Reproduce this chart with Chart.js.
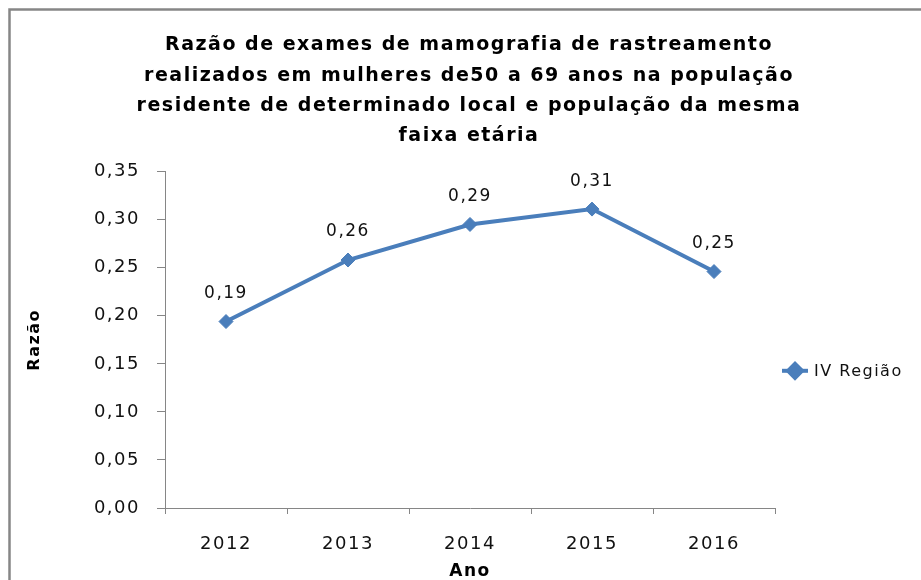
<!DOCTYPE html>
<html>
<head>
<meta charset="utf-8">
<script src="https://cdn.jsdelivr.net/npm/chart.js@4/dist/chart.umd.min.js"></script>
<style>
  html, body { margin: 0; padding: 0; background: #fff; }
  #wrap { width: 921px; height: 580px; }
</style>
</head>
<body>
<div id="wrap"><canvas id="c" width="921" height="580"></canvas></div>
<script>
const titleLines = [
  'Razão de exames de mamografia de rastreamento',
  'realizados em mulheres de50 a 69 anos na população',
  'residente de determinado local e população da mesma',
  'faixa etária'
];
const categories = ['2012', '2013', '2014', '2015', '2016'];
const seriesName = 'IV Região';
const seriesValues = [0.194, 0.258, 0.295, 0.311, 0.246];
const yMin = 0;
const yMax = 0.35;
const yStep = 0.05;
const xTitle = 'Ano';
const yTitle = 'Razão';

const LINE = '#4A7EBB';
const AXIS = '#868686';
const FONT = "'DejaVu Sans', sans-serif";
const fmt = v => v.toFixed(2).replace('.', ',');

const spacingPlugin = {
  id: 'spacing',
  beforeUpdate(chart) { chart.ctx.letterSpacing = '1.5px'; },
  beforeDraw(chart) {
    const ctx = chart.ctx;
    ctx.letterSpacing = '1.5px';
    ctx.save();
    ctx.fillStyle = '#fff';
    ctx.fillRect(0, 0, chart.width, chart.height);
    ctx.strokeStyle = AXIS;
    ctx.lineWidth = 2.5;
    ctx.strokeRect(9.5, 9.5, chart.width + 20, chart.height + 20);
    ctx.restore();
  }
};

const labelPlugin = {
  id: 'valueLabels',
  afterDatasetsDraw(chart) {
    const ctx = chart.ctx;
    const meta = chart.getDatasetMeta(0);
    ctx.save();
    ctx.font = '17px ' + FONT;
    ctx.fillStyle = '#111';
    ctx.textAlign = 'center';
    ctx.textBaseline = 'middle';
    meta.data.forEach((pt, i) => {
      ctx.fillText(fmt(seriesValues[i]), pt.x, pt.y - 28);
    });
    ctx.restore();
  },
  afterDraw(chart) {
    // legend: line with diamond marker, to the right of the plot area
    const ctx = chart.ctx;
    const ds = chart.data.datasets[0];
    const ca = chart.chartArea;
    const x0 = ca.right + 7;
    const w = 26;
    const y = (ca.top + ca.bottom) / 2 + 31;
    ctx.save();
    ctx.strokeStyle = ds.borderColor;
    ctx.lineWidth = ds.borderWidth;
    ctx.beginPath();
    ctx.moveTo(x0, y);
    ctx.lineTo(x0 + w, y);
    ctx.stroke();
    ctx.fillStyle = ds.pointBackgroundColor;
    ctx.strokeStyle = ds.pointBorderColor;
    Chart.helpers.drawPoint(ctx, {
      pointStyle: ds.pointStyle, radius: ds.pointRadius, borderWidth: ds.pointBorderWidth, rotation: 0
    }, x0 + w / 2, y);
    ctx.font = '16px ' + FONT;
    ctx.fillStyle = '#111';
    ctx.textAlign = 'left';
    ctx.textBaseline = 'middle';
    ctx.fillText(ds.label, x0 + w + 6, y + 1);
    ctx.restore();
  }
};

Chart.defaults.font.family = FONT;
Chart.defaults.color = '#111';

new Chart(document.getElementById('c'), {
  type: 'line',
  data: {
    labels: categories,
    datasets: [{
      label: seriesName,
      data: seriesValues,
      borderColor: LINE,
      backgroundColor: LINE,
      borderWidth: 4,
      pointStyle: 'rectRot',
      pointRadius: 7,
      pointBorderWidth: 1,
      pointBackgroundColor: LINE,
      pointBorderColor: LINE,
      tension: 0,
      fill: false,
      yAxisID: 'y'
    }]
  },
  options: {
    responsive: false,
    animation: false,
    devicePixelRatio: 1,
    layout: { padding: { left: 17, right: 0, top: 0, bottom: 0 } },
    plugins: {
      title: {
        display: true,
        text: titleLines,
        color: '#000',
        font: { size: 19, weight: 'bold', family: FONT, lineHeight: 1.6 },
        padding: { top: 30, bottom: 20 }
      },
      legend: { display: false },
      tooltip: { enabled: false }
    },
    scales: {
      x: {
        type: 'category',
        offset: true,
        grid: { display: true, offset: true, drawOnChartArea: false, drawTicks: true, tickLength: 6, color: AXIS },
        border: { display: true, color: AXIS, width: 1 },
        ticks: { color: '#111', font: { size: 18, family: FONT }, padding: 20, maxRotation: 0 },
        title: { display: true, text: xTitle, color: '#000', font: { size: 17, weight: 'bold', family: FONT, lineHeight: 1 }, padding: { top: 0, bottom: 0 } },
        afterFit(scale) { scale.height = 72; }
      },
      y: {
        min: yMin,
        max: yMax,
        grid: { display: true, drawOnChartArea: false, drawTicks: true, tickLength: 8, color: AXIS },
        border: { display: true, color: AXIS, width: 1 },
        ticks: { stepSize: yStep, color: '#111', font: { size: 18, family: FONT }, padding: 17, callback: v => fmt(v) },
        title: { display: true, text: yTitle, color: '#000', font: { size: 16, weight: 'bold', family: FONT, lineHeight: 1.2 }, padding: { top: 8, bottom: 0 } },
        afterFit(scale) { scale.width = 165 - 17; }
      },
      legendSpace: {
        type: 'linear',
        position: 'right',
        display: true,
        min: yMin,
        max: yMax,
        grid: { display: false, drawTicks: false },
        border: { display: false },
        ticks: { display: false },
        afterFit(scale) { scale.width = 921 - 775; }
      }
    }
  },
  plugins: [spacingPlugin, labelPlugin]
});
</script>
</body>
</html>
